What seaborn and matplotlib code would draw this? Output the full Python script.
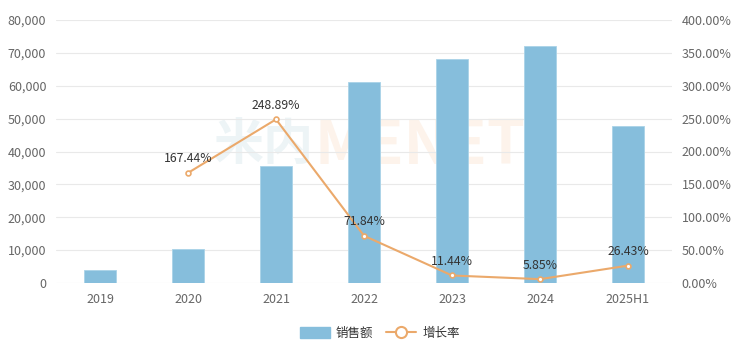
import matplotlib
matplotlib.use("Agg")
import matplotlib.pyplot as plt
import seaborn as sns
import pandas as pd
import numpy as np
from matplotlib.patches import Patch
from matplotlib.lines import Line2D
from matplotlib.ticker import FuncFormatter, MultipleLocator

years = ["2019", "2020", "2021", "2022", "2023", "2024", "2025H1"]
sales = [3814, 10200, 35587, 61153, 68149, 72136, 47900]
growth = [np.nan, 167.44, 248.89, 71.84, 11.44, 5.85, 26.43]
growth_labels = ["", "167.44%", "248.89%", "71.84%", "11.44%", "5.85%", "26.43%"]

bar_color = "#86BEDC"
line_color = "#EBA96B"

sns.set_theme(style="white")
plt.rcParams['font.family'] = ['Noto Sans CJK SC', 'DejaVu Sans']

df = pd.DataFrame({"year": years, "sales": sales, "growth": growth})

fig = plt.figure(figsize=(7.4, 3.54), dpi=100)
ax = fig.add_axes([56/740, 1-283/354, (672-56)/740, (283-20)/354])

# watermark
ax.text(314/740, 1-146/354, "米内", transform=fig.transFigure, ha="right", va="center",
        fontsize=36, fontweight="bold", color="#EDF4F6", zorder=0)
ax.text(314/740, 1-146/354, "MENET", transform=fig.transFigure, ha="left", va="center",
        fontsize=44, fontweight="bold", color="#FDF3EB", zorder=0)

sns.barplot(data=df, x="year", y="sales", color=bar_color, width=0.37,
            saturation=1, ax=ax, zorder=2, edgecolor="#A9D3E8", linewidth=0.6)
ax.set_ylim(0, 80000)
ax.yaxis.set_major_locator(MultipleLocator(10000))
ax.yaxis.set_major_formatter(FuncFormatter(lambda v, p: f"{int(v):,}"))
ax.grid(axis="y", color="#E9E9E9", linewidth=0.8, zorder=0)
ax.set_axisbelow(True)
for s in ax.spines.values():
    s.set_visible(False)
ax.set_xlabel("")
ax.set_ylabel("")
ax.tick_params(axis="both", length=0, labelsize=9, colors="#666666")
ax.tick_params(axis="x", pad=7)
ax.tick_params(axis="y", pad=7)
ax.set_xlim(-0.5, len(years) - 0.5)

ax2 = ax.twinx()
sns.pointplot(data=df, x="year", y="growth", color=line_color, ax=ax2,
              markers="o", markersize=3.5, linewidth=1.5, zorder=5)
for ln in ax2.lines:
    ln.set_markerfacecolor("white")
    ln.set_markeredgecolor(line_color)
    ln.set_markeredgewidth(1.2)
ax2.set_ylim(0, 400)
ax2.set_xlim(-0.5, len(years) - 0.5)
ax2.yaxis.set_major_locator(MultipleLocator(50))
ax2.yaxis.set_major_formatter(FuncFormatter(lambda v, p: f"{v:.2f}%"))
for s in ax2.spines.values():
    s.set_visible(False)
ax2.set_xlabel("")
ax2.set_ylabel("")
ax2.tick_params(axis="both", length=0, labelsize=9, colors="#666666")
ax2.tick_params(axis="y", pad=7)
ax2.grid(False)

for i, (g, lab) in enumerate(zip(growth, growth_labels)):
    if lab:
        ax2.annotate(lab, (i, g), xytext=(0, 5.5), textcoords="offset points",
                     ha="center", va="bottom", fontsize=8.8, color="#333333", zorder=6)

handles = [Patch(facecolor=bar_color, edgecolor=bar_color),
           Line2D([0], [0], color=line_color, lw=1.5, marker="o", markersize=8,
                  markerfacecolor="white", markeredgecolor=line_color, markeredgewidth=1.5)]
fig.legend(handles, ["销售额", "增长率"], loc="center", bbox_to_anchor=(0.513, 0.059),
           ncol=2, frameon=False, fontsize=9, labelcolor="#333333",
           handlelength=2.4, handleheight=1.0, columnspacing=1.0, handletextpad=0.5)

fig.savefig("out.png", dpi=100)
